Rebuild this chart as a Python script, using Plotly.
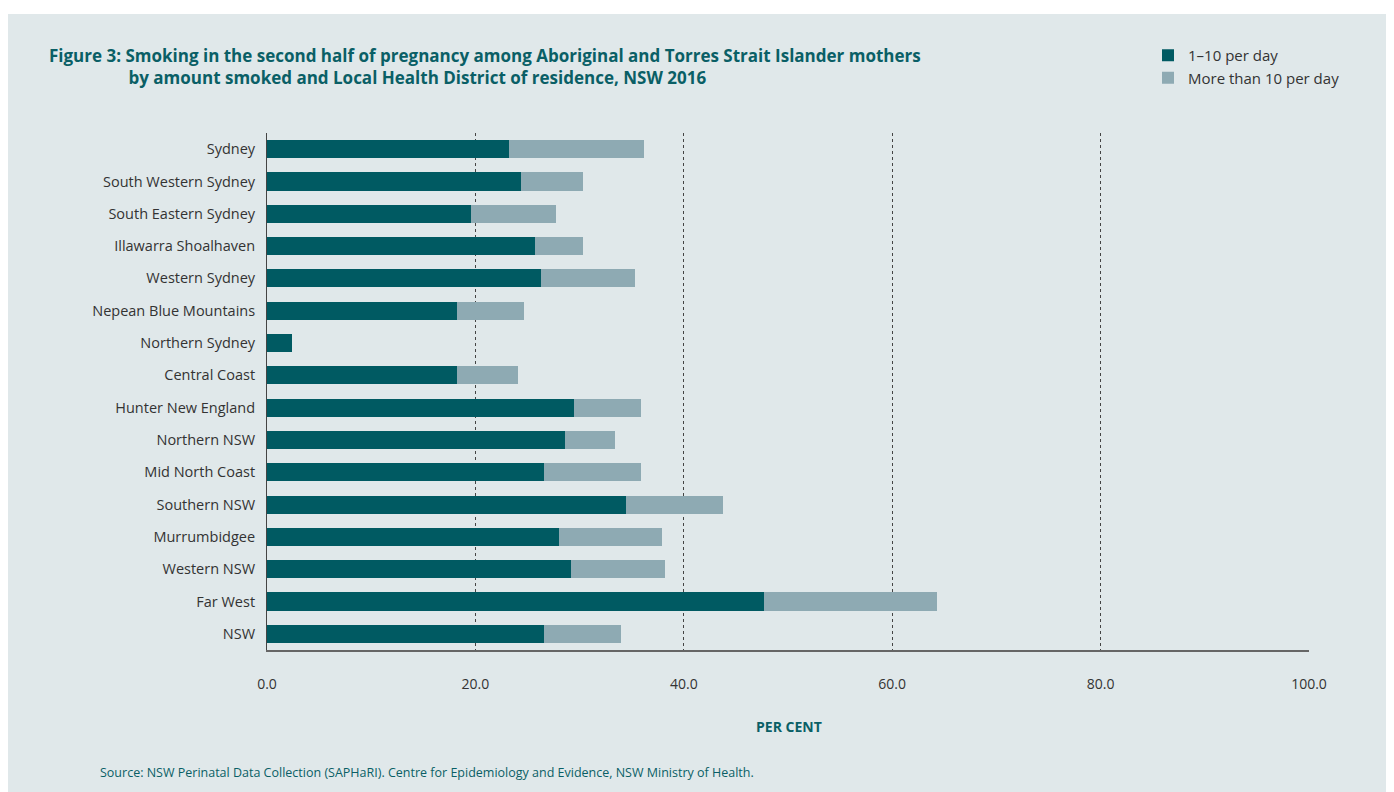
import plotly.graph_objects as go

categories = ["Sydney", "South Western Sydney", "South Eastern Sydney", "Illawarra Shoalhaven",
              "Western Sydney", "Nepean Blue Mountains", "Northern Sydney", "Central Coast",
              "Hunter New England", "Northern NSW", "Mid North Coast", "Southern NSW",
              "Murrumbidgee", "Western NSW", "Far West", "NSW"]
one_to_ten = [23.2, 24.4, 19.6, 25.7, 26.3, 18.2, 2.4, 18.2, 29.5, 28.6, 26.6, 34.5, 28.0, 29.2, 47.7, 26.6]
more_than_ten = [13.0, 5.9, 8.1, 4.6, 9.0, 6.5, 0.0, 5.9, 6.4, 4.8, 9.3, 9.3, 9.9, 9.0, 16.6, 7.4]
x_ticks = [0, 20, 40, 60, 80, 100]
x_tick_labels = ["0.0", "20.0", "40.0", "60.0", "80.0", "100.0"]

DARK = "#005a62"
LIGHT = "#8eaab3"
TEAL_TEXT = "#0a5f66"
BG = "#e0e8ea"
FONT = "Open Sans"

OFF = 8  # page body margin
FW, FH = 1386, 792
L = 267 - OFF
PW = 1309 - 267
R = FW - L - PW
T = 133 - OFF
PH = 650 - 133
B = FH - T - PH

def px(x):
    return (x - OFF - L) / PW

def py(y):
    return (T + PH - (y - OFF)) / PH

title_text = ("<b>Figure 3: Smoking in the second half of pregnancy among Aboriginal and Torres Strait Islander mothers"
              "<br>" + "\u00a0" * 18 +
              "by amount smoked and Local Health District of residence, NSW 2016</b>")

fig = go.Figure()
fig.add_trace(go.Bar(y=categories, x=one_to_ten, orientation="h", name="1\u201310 per day",
                     marker=dict(color=DARK, line=dict(width=0)), width=0.56))
fig.add_trace(go.Bar(y=categories, x=more_than_ten, orientation="h", name="More than 10 per day",
                     marker=dict(color=LIGHT, line=dict(width=0)), width=0.56))

fig.update_layout(
    width=FW, height=FH,
    barmode="stack",
    margin=dict(l=L, r=R, t=T, b=B),
    paper_bgcolor=BG,
    plot_bgcolor="rgba(0,0,0,0)",
    font=dict(family=FONT, size=14, color="#333333"),
    showlegend=True,
    legend=dict(x=px(1148), y=py(39), xanchor="left", yanchor="top",
                bgcolor="rgba(0,0,0,0)", font=dict(size=15, color="#333333"),
                traceorder="normal", itemwidth=30, tracegroupgap=0),
    xaxis=dict(range=[0, 100], tickvals=x_ticks, ticktext=x_tick_labels,
               showgrid=True, gridcolor="#444444", griddash="dot", gridwidth=1,
               zeroline=False, showline=True, linecolor="#666666", linewidth=2,
               ticks="outside", ticklen=0, ticklabelstandoff=20,
               tickfont=dict(size=14, color="#333333")),
    yaxis=dict(categoryorder="array", categoryarray=categories, autorange="reversed",
               showgrid=False, zeroline=False, showline=True, linecolor="#444444", linewidth=1,
               ticks="outside", ticklen=0, ticklabelstandoff=8,
               tickfont=dict(size=14.5, color="#333333")),
    shapes=[
        dict(type="rect", xref="paper", yref="paper", x0=px(0), x1=px(1400), y0=py(14), y1=py(0),
             fillcolor="white", line=dict(width=0), layer="below"),
    ],
    annotations=[
        dict(text=title_text, xref="paper", yref="paper", x=px(47), y=py(66),
             xanchor="left", yanchor="middle", align="left",
             showarrow=False, font=dict(size=17, color=TEAL_TEXT, family=FONT)),
        dict(text="<b>PER CENT</b>", xref="paper", yref="paper", x=px(789), y=py(726),
             xanchor="center", yanchor="middle", showarrow=False,
             font=dict(size=14, color=TEAL_TEXT, family=FONT)),
        dict(text="Source: NSW Perinatal Data Collection (SAPHaRI). Centre for Epidemiology and Evidence, NSW Ministry of Health.",
             xref="paper", yref="paper", x=px(98), y=py(772), xanchor="left", yanchor="middle",
             showarrow=False, font=dict(size=12.5, color=TEAL_TEXT, family=FONT)),
    ],
)

fig.write_html("out.html")
